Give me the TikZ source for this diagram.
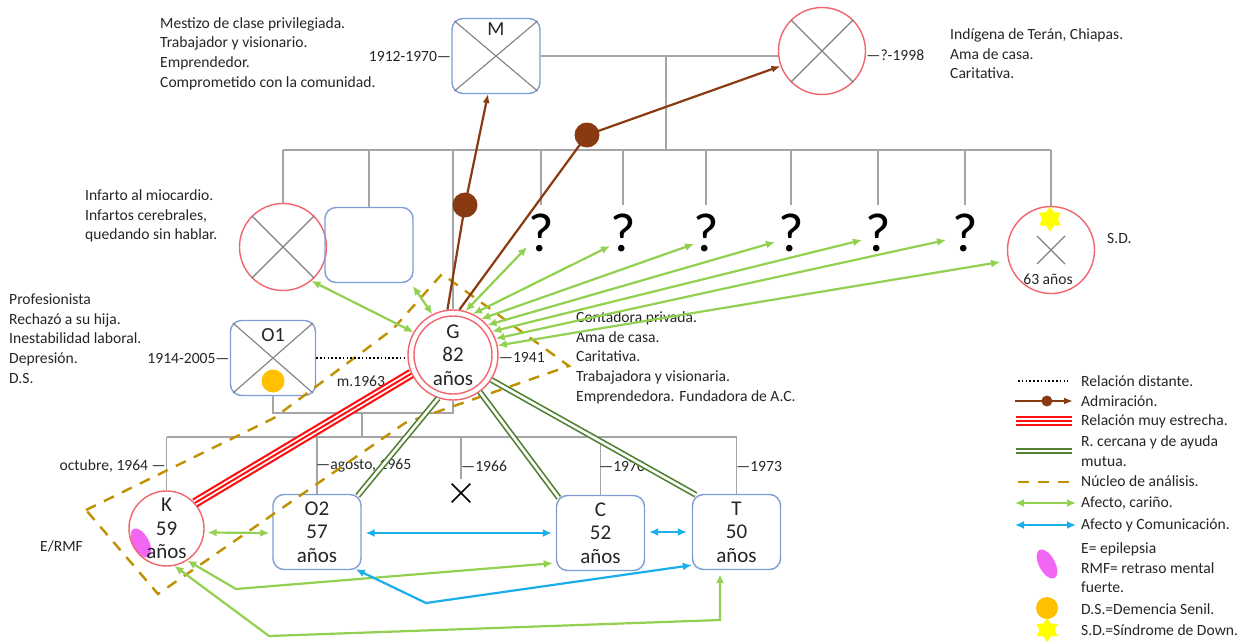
\documentclass[tikz,border=0pt]{standalone}
\usepackage{fontspec}
\setmainfont{Carlito}
\usetikzlibrary{arrows.meta,shapes.geometric,shapes.misc,calc}
\definecolor{famgray}{HTML}{A5A5A5}
\definecolor{crossgray}{HTML}{808080}
\definecolor{fred}{HTML}{F2646E}
\definecolor{mblue}{HTML}{7F9ED8}
\definecolor{lgreen}{HTML}{92D050}
\definecolor{cblue}{HTML}{1AAFEA}
\definecolor{brownc}{HTML}{8A3A10}
\definecolor{dgreen}{HTML}{548235}
\definecolor{redc}{HTML}{FF1010}
\definecolor{goldc}{HTML}{BF9000}
\definecolor{magc}{HTML}{F366F3}
\definecolor{orangec}{HTML}{FFC000}
\definecolor{yellowc}{HTML}{FFFF00}
\definecolor{txtc}{HTML}{262626}
\begin{document}
\begin{tikzpicture}[x=1pt,y=-1pt,
  fam/.style={draw=famgray,line width=1.4pt},
  xline/.style={draw=crossgray,line width=1.1pt},
  fcirc/.style={circle,draw=fred,line width=1.4pt,minimum size=87pt,inner sep=0pt},
  mbox/.style={rectangle,rounded corners=11pt,draw=mblue,line width=1.4pt,minimum width=88pt,minimum height=75pt,inner sep=0pt},
  txt/.style={font=\fontsize{15.6}{19.6}\selectfont,text=txtc,inner sep=0pt,align=left,anchor=west},
  lab/.style={font=\fontsize{21}{23.5}\selectfont,text=txtc,inner sep=0pt,align=center},
  qm/.style={font=\fontsize{55}{55}\selectfont,inner sep=0pt},
  afecto/.style={draw=lgreen,line width=2.2pt,{Latex[length=9pt,width=8pt]}-{Latex[length=9pt,width=8pt]}},
  comm/.style={draw=cblue,line width=2.2pt,{Latex[length=9pt,width=8pt]}-{Latex[length=9pt,width=8pt]}},
  admir/.style={draw=brownc,line width=2.2pt,-{Latex[length=9pt,width=7pt]}},
  cerca/.style={draw=dgreen,double=white,line width=1.7pt,double distance=2.6pt},
  estrecha/.style={draw=redc,line width=10pt,postaction={draw=white,line width=5.6pt},postaction={draw=redc,line width=2pt}},
  nucleo/.style={draw=goldc,line width=2.4pt,dash pattern=on 11pt off 9pt},
  distante/.style={draw=black,line width=1.6pt,dash pattern=on 1.6pt off 2.2pt},
  dsdot/.style={circle,fill=orangec,inner sep=0pt,minimum size=23pt},
  sdstar/.style={star,star points=6,star point ratio=1.6,fill=yellowc,inner sep=0pt,minimum size=25pt},
  epil/.style={ellipse,fill=magc,inner sep=0pt,minimum width=32pt,minimum height=16pt,rotate=-62},
  bdot/.style={circle,fill=brownc,inner sep=0pt,minimum size=25pt}
]
\useasboundingbox (0,0) rectangle (1251,643);
\fill[white] (0,0) rectangle (1251,643);

% ---------- persons
\node[mbox] (M) at (496,56) {};
\node[font=\fontsize{20}{20}\selectfont,text=txtc,inner sep=0pt] (Mlab) at (496,29) {M};
\node[fcirc] (W) at (822,51) {};
\node[fcirc] (C1) at (283,247) {};
\node[mbox] (E) at (369,245) {};
\node[qm] (q1) at (541,233) {?};
\node[qm] (q2) at (623,233) {?};
\node[qm] (q3) at (706,233) {?};
\node[qm] (q4) at (791,233) {?};
\node[qm] (q5) at (878,233) {?};
\node[qm] (q6) at (965,233) {?};
\node[fcirc] (SD) at (1051,250) {};
\node[fcirc,minimum size=90pt,lab] (G) at (453,355) {G\\82\\años};
\draw[draw=fred,line width=1.4pt] (G.center) circle (39);
\node[mbox,minimum width=85pt] (O1) at (273,358) {};
\node[font=\fontsize{20}{20}\selectfont,text=txtc,inner sep=0pt] (O1lab) at (273,335) {O1};
\node[dsdot] (O1ds) at (273,381) {};
\node[epil] (Kep) at (141,543) {};
\node[fcirc,minimum size=75pt,lab] (K) at (166.5,528.5) {K\\59\\años};
\node[mbox,lab] (O2) at (317,532) {O2\\57\\años};
\node[mbox,lab] (C) at (600.5,533) {C\\52\\años};
\node[mbox,lab] (T) at (736.5,532) {T\\50\\años};
\node[cross out,draw=black,line width=1.6pt,minimum size=17pt,inner sep=0pt] (X66) at (461,493) {};

% crosses (deceased)
\draw[xline] ($(M.north west)+(3.2,3.2)$) -- ($(M.south east)+(-3.2,-3.2)$);
\draw[xline] ($(M.north east)+(-3.2,3.2)$) -- ($(M.south west)+(3.2,-3.2)$);
\draw[xline] ($(O1.north west)+(3.2,3.2)$) -- ($(O1.south east)+(-3.2,-3.2)$);
\draw[xline] ($(O1.north east)+(-3.2,3.2)$) -- ($(O1.south west)+(3.2,-3.2)$);
\draw[xline] (W.45) -- (W.225);
\draw[xline] (W.135) -- (W.315);
\draw[xline] (C1.45) -- (C1.225);
\draw[xline] (C1.135) -- (C1.315);
\draw[xline] ($(SD.center)+(-14,-14)$) -- ($(SD.center)+(14,14)$);
\draw[xline] ($(SD.center)+(14,-14)$) -- ($(SD.center)+(-14,14)$);
\node[font=\fontsize{15.6}{15.6}\selectfont,text=txtc,inner sep=0pt] (SDage) at (1048,279) {63 años};

% ---------- family lines
\coordinate (mw) at (666,56);
\coordinate (sib) at (666,150);
\draw[fam] (M.east) -- (M.east -| W.west);
\draw[fam] (mw) -- (sib);
\draw[fam] (C1.north |- sib) -- (SD.north |- sib);
\draw[fam] (C1.north |- sib) -- (C1.north);
\draw[fam] (E.north |- sib) -- (E.north);
\draw[fam] (G.north |- sib) -- (G.north);
\foreach \q in {q1,q2,q3,q4,q5,q6} \draw[fam] (\q |- sib) -- ++(0,55);
\draw[fam] (SD.north |- sib) -- (SD.north);
\node[sdstar] (SDstar) at (1050,219) {};

\coordinate (mar) at (362,413);
\coordinate (kids) at (362,437);
\draw[fam] (O1.south) -- (O1.south |- mar) -- (G.south |- mar) -- (G.south);
\draw[fam] (mar) -- (kids);
\draw[fam] (K.north |- kids) -- (T.north |- kids);
\draw[fam] (K.north |- kids) -- (K.north);
\draw[fam] (O2.north |- kids) -- (O2.north);
\draw[fam] (X66.north |- kids) -- ($(X66.north)+(0,-5)$);
\draw[fam] (C.north |- kids) -- (C.north);
\draw[fam] (T.north |- kids) -- (T.north);

% ---------- texts
\node[txt] (tM) at (160,53.5) {Mestizo de clase privilegiada.\\Trabajador y visionario.\\Emprendedor.\\Comprometido con la comunidad.};
\node[txt] (tW) at (950,54) {Indígena de Terán, Chiapas.\\Ama de casa.\\Caritativa.};
\node[txt] (tC1) at (85,216) {Infarto al miocardio.\\Infartos cerebrales,\\quedando sin hablar.};
\node[txt] (tO1) at (9,338.6) {Profesionista\\Rechazó a su hija.\\Inestabilidad laboral.\\Depresión.\\D.S.};
\node[txt] (tG) at (576,357.8) {Contadora privada.\\Ama de casa.\\Caritativa.\\Trabajadora y visionaria.\\Emprendedora. Fundadora de A.C.};
\node[txt,anchor=east] (dM) at (M.west) {1912-1970—};
\node[txt] (dW) at ($(W.east)+(0,4)$) {—?-1998};
\node[txt,anchor=east] (dO1) at (O1.west) {1914-2005—};
\node[txt] (dG) at ($(G.east)+(0,2)$) {—1941};
\node[txt,anchor=east] (dK) at (166,466) {octubre, 1964 —};
\node[txt] (dO2) at (316,466) {—agosto, 1965};
\node[txt] (dX) at (461,466) {—1966};
\node[txt] (dC) at (599,466) {—1970};
\node[txt] (dT) at (736,466) {—1973};
\node[txt,anchor=center] (mar63) at (361,381) {m.1963};
\node[txt] (tSD) at (1107,238) {S.D.};
\node[txt] (tK) at (40,546) {E/RMF};

% ---------- nucleo de analisis
\coordinate (nL) at (86,510);
\coordinate (nT) at (442,274);
\coordinate (nR) at (569,366);
\coordinate (nB) at (158,594);
\draw[nucleo] (nL) -- (274,418) -- (393,329) -- (nT) -- (nR) -- (405,423) -- (nB) -- cycle;

% ---------- relations
\draw[distante,shorten >=3pt] (O1.east) -- (O1.east -| G.west);
\draw[estrecha] (G.204) -- (K.42);
\draw[cerca] (G.251) -- ($(O2.north east)+(-4,2)$);
\draw[cerca] (G.-54) -- ($(C.north west)+(3,3)$);
\draw[cerca] (G.-33) -- ($(T.north west)+(4,1)$);

\node[bdot] (d1) at (465,205) {};
\node[bdot] (d2) at (587,135) {};
\coordinate (Mtip) at (488,94);
\draw[admir] (G.97) -- (d1.center) -- (Mtip);
\draw[admir] (G.82) -- (d2.center) -- (W.200);

\coordinate (t1) at (527,247);
\coordinate (t2) at (610,246);
\coordinate (t3) at (694,244);
\coordinate (t4) at (775,242);
\coordinate (t5) at (862,240);
\coordinate (t6) at (946,240);
\coordinate (t7) at (1000,262);
\coordinate (tE) at (413,286);
\draw[afecto] (G.150) -- (C1.-50);
\draw[afecto] (G.117) -- (tE);
\draw[afecto] (G.74) -- (t1);
\draw[afecto] (G.64) -- (t2);
\draw[afecto] (G.52) -- (t3);
\draw[afecto] (G.41) -- (t4);
\draw[afecto] (G.31) -- (t5);
\draw[afecto] (G.21) -- (t6);
\draw[afecto] (G.12) -- (t7);

\coordinate (kc) at (236,589);
\coordinate (kt1) at (269,636);
\coordinate (kt2) at (720,620);
\coordinate (ot) at (426,603);
\draw[afecto] ($(K.east)+(3,4)$) -- ($(O2.west)+(-3,1)$);
\draw[afecto] (K.-57) -- (kc) -- ($(C.south west)+(-3,-8)$);
\draw[afecto] (K.-78) -- (kt1) -- (kt2) -- ($(T.south)+(-16.5,4)$);
\draw[comm] ($(O2.east)+(4,1)$) -- ($(C.west)+(-4,0)$);
\draw[comm] ($(C.east)+(4,-1)$) -- ($(T.west)+(-5,0)$);
\draw[comm] ($(O2.south east)+(-6,-1)$) -- (ot) -- ($(T.south west)+(0,-5)$);

% ---------- legend
\coordinate (l1a) at (1018,381); \coordinate (l1b) at (1068,381);
\coordinate (l2a) at (1015,401); \coordinate (l2b) at (1073,401);
\coordinate (l3a) at (1016,421); \coordinate (l3b) at (1072,421);
\coordinate (l4a) at (1016,451); \coordinate (l4b) at (1072,451);
\coordinate (l5a) at (1018,482); \coordinate (l5b) at (1072,482);
\coordinate (l6a) at (1015,503); \coordinate (l6b) at (1076,503);
\coordinate (l7a) at (1015,525); \coordinate (l7b) at (1076,525);
\draw[distante] (l1a) -- (l1b);
\draw[admir] (l2a) -- (l2b);
\fill[brownc] ($(l2a)!0.55!(l2b)$) circle (5.5);
\draw[estrecha] (l3a) -- (l3b);
\draw[cerca] (l4a) -- (l4b);
\draw[nucleo] (l5a) -- (l5b);
\draw[afecto] (l6a) -- (l6b);
\draw[comm] (l7a) -- (l7b);
\node[epil] (lgE) at (1047,564) {};
\node[dsdot,minimum size=22pt] (lgDS) at (1047,608) {};
\node[sdstar,minimum size=24pt] (lgSD) at (1047,630) {};

\node[txt] (g1) at (1081,381) {Relación distante.};
\node[txt] (g2) at (1081,401) {Admiración.};
\node[txt] (g3) at (1081,421) {Relación muy estrecha.};
\node[txt] (g4) at (1081,451) {R. cercana y de ayuda\\mutua.};
\node[txt] (g5) at (1081,481) {Núcleo de análisis.};
\node[txt] (g6) at (1081,503) {Afecto, cariño.};
\node[txt] (g7) at (1081,525) {Afecto y Comunicación.};
\node[txt] (g8) at (1081,568) {E= epilepsia\\RMF= retraso mental\\fuerte.};
\node[txt] (g9) at (1081,609) {D.S.=Demencia Senil.};
\node[txt] (g10) at (1081,630) {S.D.=Síndrome de Down.};
\end{tikzpicture}
\end{document}
